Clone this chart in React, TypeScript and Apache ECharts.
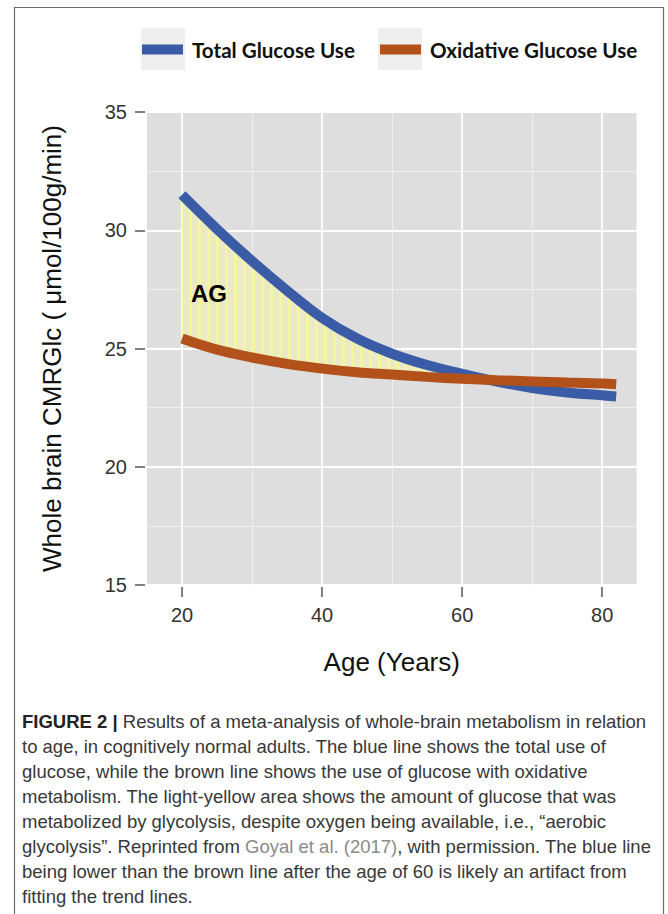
import React, { useEffect, useRef } from 'react';
import * as echarts from 'echarts';

// ---- data ----
const ages = [20, 25, 30, 35, 40, 45, 50, 55, 60, 65, 70, 75, 80, 82];
const totalGlucose = [31.5, 30.05, 28.7, 27.45, 26.3, 25.42, 24.78, 24.3, 23.93, 23.6, 23.33, 23.14, 23.02, 22.97];
const oxidativeGlucose = [25.42, 24.95, 24.62, 24.35, 24.15, 24.0, 23.9, 23.8, 23.72, 23.66, 23.61, 23.56, 23.52, 23.49];
const agMaxAge = 65;
const xTicks = [20, 40, 60, 80];
const xMinorGrid = [30, 50, 70];
const seriesNames = ['Total Glucose Use', 'Oxidative Glucose Use'];
const yAxisTitle = 'Whole brain CMRGlc ( \u03bcmol/100g/min)';
const xAxisTitle = 'Age (Years)';
const captionLines = [
  '{b|FIGURE 2 | }Results of a meta-analysis of whole-brain metabolism in relation',
  'to age, in cognitively normal adults. The blue line shows the total use of',
  'glucose, while the brown line shows the use of glucose with oxidative',
  'metabolism. The light-yellow area shows the amount of glucose that was',
  'metabolized by glycolysis, despite oxygen being available, i.e., \u201caerobic',
  'glycolysis\u201d. Reprinted from {g|Goyal et al. (2017)}, with permission. The blue line',
  'being lower than the brown line after the age of 60 is likely an artifact from',
  'fitting the trend lines.',
];

const BLUE = '#3A5CA6';
const BROWN = '#B3511B';
const FONT = '"Liberation Sans", Arial, sans-serif';
const CAP = 18.5;

function makeStripes(): string {
  const c = document.createElement('canvas');
  c.width = 9;
  c.height = 4;
  const ctx = c.getContext('2d');
  if (ctx) {
    ctx.fillStyle = '#EAEAC6';
    ctx.fillRect(0, 0, 9, 4);
    ctx.fillStyle = '#F5F59E';
    ctx.fillRect(0, 0, 3, 4);
  }
  return c.toDataURL();
}

export default function App() {
  const ref = useRef<HTMLDivElement>(null);

  useEffect(() => {
    document.body.style.margin = '0';
    if (!ref.current) return;
    const chart = echarts.init(ref.current, null, { renderer: 'svg' });

    const agIdx = ages.map((a, i) => i).filter((i) => ages[i] <= agMaxAge);
    // value first, age second, so that stacking applies to the value dimension
    const baseData = agIdx.map((i) => [oxidativeGlucose[i], ages[i]]);
    const diffData = agIdx.map((i) => [Math.max(0, totalGlucose[i] - oxidativeGlucose[i]), ages[i]]);

    const legendCommon = {
      icon: 'rect',
      itemWidth: 41,
      itemHeight: 10,
      top: 39,
      padding: 0,
      selectedMode: false,
      textStyle: { fontFamily: 'Lato', fontWeight: 'bold', fontSize: 20.6, color: '#111', padding: [0, 0, 0, 4] },
    };

    const caption = captionLines.map((line, i) => ({
      type: 'text',
      x: 22,
      y: 721 + i * 25,
      z: 10,
      style: {
        text: line,
        font: `${CAP}px ${FONT}`,
        fill: '#383838',
        textVerticalAlign: 'middle',
        rich: {
          b: { fontWeight: 'bold', fontSize: CAP, fontFamily: FONT, fill: '#222' },
          g: { fontSize: CAP, fontFamily: FONT, fill: '#8a8a8a' },
        },
      },
    }));

    const option: any = {
      animation: false,
      backgroundColor: '#ffffff',
      grid: { left: 147, top: 112, width: 489.5, height: 473, show: true, backgroundColor: '#DEDEDE', borderWidth: 0 },
      legend: [
        { ...legendCommon, data: [seriesNames[0]], left: 142 },
        { ...legendCommon, data: [seriesNames[1]], left: 380 },
      ],
      xAxis: {
        type: 'value',
        min: 15,
        max: 84.9,
        offset: 2,
        name: xAxisTitle,
        nameLocation: 'middle',
        nameGap: 62,
        nameTextStyle: { fontFamily: FONT, fontSize: 26, color: '#111' },
        axisLine: { show: false },
        axisTick: { show: true, length: 10, customValues: xTicks, lineStyle: { color: '#555', width: 1.5 } },
        axisLabel: { customValues: xTicks, margin: 18, fontSize: 20, color: '#333', fontFamily: FONT },
        splitLine: { show: false },
      },
      yAxis: {
        type: 'value',
        min: 15,
        max: 35,
        interval: 5,
        offset: 2,
        name: yAxisTitle,
        nameLocation: 'middle',
        nameGap: 80,
        nameRotate: 90,
        nameTextStyle: { fontFamily: FONT, fontSize: 26, color: '#111' },
        axisLine: { show: false },
        axisTick: { show: true, length: 10, lineStyle: { color: '#555', width: 1.5 } },
        axisLabel: { margin: 18, fontSize: 20, color: '#333', fontFamily: FONT },
        splitLine: { show: true, lineStyle: { color: '#FFFFFF', width: 1.8 } },
        minorTick: { show: false, splitNumber: 2 },
        minorSplitLine: { show: true, lineStyle: { color: '#F2F2F2', width: 0.9 } },
      },
      graphic: [
        { type: 'rect', z: 0, shape: { x: 14.5, y: 7.5, width: 649, height: 1000 }, style: { fill: 'none', stroke: '#6b6b6b', lineWidth: 1.2 } },
        { type: 'rect', z: 0, shape: { x: 141, y: 28, width: 44, height: 42 }, style: { fill: '#EFEFEF' } },
        { type: 'rect', z: 0, shape: { x: 378, y: 28, width: 44, height: 42 }, style: { fill: '#EFEFEF' } },
        {
          type: 'text', x: 191, y: 293, z: 10,
          style: { text: 'AG', font: `bold 24px ${FONT}`, fill: '#000', textVerticalAlign: 'middle' },
        },
        ...caption,
      ],
      series: [
        {
          name: 'base',
          type: 'line',
          stack: 'ag',
          data: baseData,
          encode: { x: 1, y: 0 },
          showSymbol: false,
          smooth: 0.4,
          silent: true,
          z: 2,
          lineStyle: { opacity: 0, width: 0 },
          markLine: {
            silent: true,
            symbol: 'none',
            z: 1,
            label: { show: false },
            data: [
              ...xTicks.map((v) => ({ xAxis: v, lineStyle: { color: '#FFFFFF', width: 1.8, type: 'solid' } })),
              ...xMinorGrid.map((v) => ({ xAxis: v, lineStyle: { color: '#F2F2F2', width: 0.9, type: 'solid' } })),
            ],
          },
        },
        {
          name: 'AG',
          type: 'line',
          stack: 'ag',
          data: diffData,
          encode: { x: 1, y: 0 },
          showSymbol: false,
          smooth: 0.4,
          silent: true,
          z: 2,
          lineStyle: { opacity: 0, width: 0 },
          areaStyle: {
            opacity: 1,
            color: { image: makeStripes(), repeat: 'repeat', imageWidth: 9, imageHeight: 4 },
          },
        },
        {
          name: seriesNames[0],
          type: 'line',
          data: ages.map((a, i) => [a, totalGlucose[i]]),
          showSymbol: false,
          smooth: 0.4,
          z: 3,
          itemStyle: { color: BLUE },
          lineStyle: { color: BLUE, width: 10, cap: 'butt' },
        },
        {
          name: seriesNames[1],
          type: 'line',
          data: ages.map((a, i) => [a, oxidativeGlucose[i]]),
          showSymbol: false,
          smooth: 0.4,
          z: 4,
          itemStyle: { color: BROWN },
          lineStyle: { color: BROWN, width: 10, cap: 'butt' },
        },
      ],
    };

    chart.setOption(option);
    return () => chart.dispose();
  }, []);

  return <div ref={ref} style={{ width: 668, height: 914 }} />;
}
